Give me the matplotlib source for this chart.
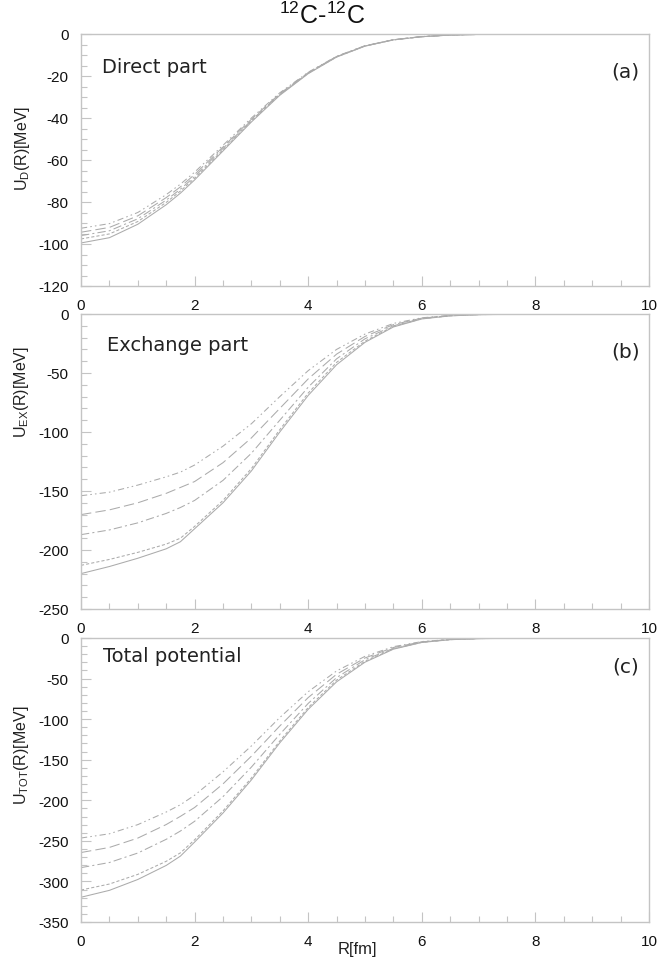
import matplotlib
matplotlib.use("Agg")
import matplotlib.pyplot as plt
from matplotlib.ticker import MultipleLocator

plt.rcParams['font.family'] = ['Liberation Sans', 'DejaVu Sans']
plt.rcParams['mathtext.fontset'] = 'custom'
plt.rcParams['mathtext.rm'] = 'Liberation Sans'
plt.rcParams['mathtext.it'] = 'Liberation Sans:italic'
plt.rcParams['axes.unicode_minus'] = False

# ---------------- data ----------------
R = [0, 0.5, 1.0, 1.5, 1.75, 2.0, 2.5, 3.0, 3.5, 4.0, 4.5, 5.0, 5.5, 6.0, 6.5, 7.0, 8.0, 9.0, 10.0]

# Direct part (a)
ud_1 = [-92.5, -90.3, -85.0, -76.5, -71.5, -65.8, -53.0, -40.0, -28.0, -18.2, -10.6, -5.6, -2.7, -1.2, -0.5, -0.2, -0.05, 0, 0]
ud_2 = [-94.4, -92.1, -86.6, -77.9, -72.8, -66.9, -53.8, -40.6, -28.4, -18.4, -10.7, -5.6, -2.7, -1.2, -0.5, -0.2, -0.05, 0, 0]
ud_3 = [-96.0, -93.7, -88.0, -79.1, -73.9, -67.9, -54.5, -41.1, -28.7, -18.6, -10.8, -5.7, -2.8, -1.3, -0.5, -0.2, -0.05, 0, 0]
ud_4 = [-97.6, -95.2, -89.3, -80.2, -74.8, -68.7, -55.1, -41.5, -28.9, -18.7, -10.9, -5.7, -2.8, -1.3, -0.5, -0.2, -0.05, 0, 0]
ud_5 = [-99.5, -97.0, -90.6, -81.3, -75.8, -69.5, -55.7, -41.9, -29.2, -18.9, -11.0, -5.8, -2.8, -1.3, -0.5, -0.2, -0.05, 0, 0]

# Exchange part (b)
uex_1 = [-154, -151, -145, -138, -134, -128, -112, -93, -70, -48, -30, -17, -8, -3.2, -1.2, -0.4, -0.1, 0, 0]
uex_2 = [-170, -166, -160, -152, -147, -142, -126, -105, -80, -55, -34, -19, -9, -3.5, -1.3, -0.45, -0.1, 0, 0]
uex_3 = [-187, -183, -177, -169, -164, -158, -141, -118, -90, -62, -38, -21, -10, -3.8, -1.4, -0.5, -0.1, 0, 0]
uex_4 = [-213, -208, -202, -195, -190, -180, -158, -131, -98, -67, -41, -23, -10.5, -4.0, -1.5, -0.5, -0.1, 0, 0]
uex_5 = [-220, -214, -207, -199, -193, -182, -160, -133, -100, -69, -43, -24, -11, -4.2, -1.6, -0.55, -0.1, 0, 0]

# Total potential (c)
utot_1 = [-246.5, -241.3, -230.0, -214.5, -205.5, -193.8, -165.0, -133.0, -98.0, -66.2, -40.6, -22.6, -10.7, -4.4, -1.7, -0.6, -0.15, 0, 0]
utot_2 = [-264.4, -258.1, -246.6, -229.9, -219.8, -208.9, -179.8, -145.6, -108.4, -73.4, -44.7, -24.6, -11.7, -4.7, -1.8, -0.65, -0.15, 0, 0]
utot_3 = [-283.0, -276.7, -265.0, -248.1, -237.9, -225.9, -195.5, -159.1, -118.7, -80.6, -48.8, -26.7, -12.8, -5.1, -1.9, -0.7, -0.15, 0, 0]
utot_4 = [-310.6, -303.2, -291.3, -275.2, -264.8, -248.7, -213.1, -172.5, -126.9, -85.7, -51.9, -28.7, -13.3, -5.3, -2.0, -0.7, -0.15, 0, 0]
utot_5 = [-319.5, -311.0, -297.6, -280.3, -268.8, -251.5, -215.7, -174.9, -129.2, -87.9, -54.0, -29.8, -13.8, -5.5, -2.1, -0.75, -0.15, 0, 0]

title = r'$^{12}$C-$^{12}$C'
panel_names = ['Direct part', 'Exchange part', 'Total potential']
panel_tags = ['(a)', '(b)', '(c)']
ylabels = [r'U$_{\mathrm{D}}$(R)[MeV]', r'U$_{\mathrm{EX}}$(R)[MeV]', r'U$_{\mathrm{TOT}}$(R)[MeV]']

# ---------------- styles ----------------
W, H = 659, 962
fig = plt.figure(figsize=(W / 100, H / 100), dpi=100)

def px_rect(left, top, right, bottom):
    return [left / W, 1 - bottom / H, (right - left) / W, (bottom - top) / H]

rects = [px_rect(81, 35, 649, 287), px_rect(81, 315, 649, 610), px_rect(81, 639, 649, 923)]
ylims = [(-120, 0), (-250, 0), (-350, 0)]
ymajor = [20, 50, 50]
yminor = [5, 10, 10]
series = [[ud_1, ud_2, ud_3, ud_4, ud_5],
          [uex_1, uex_2, uex_3, uex_4, uex_5],
          [utot_1, utot_2, utot_3, utot_4, utot_5]]
styles = [(0, (6, 3, 1.5, 3, 1.5, 3)), (0, (10, 4)), (0, (8, 3, 2, 3)), (0, (3, 2)), '-']
line_color = '#ababab'
frame_color = '#c4c4c4'
name_pos = [(0.037, 0.873), (0.046, 0.898), (0.039, 0.937)]
tag_pos = [(0.958, 0.853), (0.958, 0.875), (0.958, 0.90)]
ylabel_y = [148, 392, 755]

for i in range(3):
    ax = fig.add_axes(rects[i])
    for vals, ls in zip(series[i], styles):
        ax.plot(R, vals, color=line_color, lw=0.75, linestyle=ls)
    ax.set_xlim(0, 10)
    ax.set_ylim(*ylims[i])
    ax.xaxis.set_major_locator(MultipleLocator(2))
    ax.xaxis.set_minor_locator(MultipleLocator(0.5))
    ax.yaxis.set_major_locator(MultipleLocator(ymajor[i]))
    ax.yaxis.set_minor_locator(MultipleLocator(yminor[i]))
    for sp in ax.spines.values():
        sp.set_color(frame_color)
        sp.set_linewidth(1.0)
    ax.tick_params(which='major', direction='in', length=7, width=0.8, color=frame_color,
                   labelsize=11, pad=9, labelcolor='#111111')
    ax.tick_params(which='minor', direction='in', length=4, width=0.8, color=frame_color)
    ax.tick_params(which='both', top=False, right=False)
    ax.text(name_pos[i][0], name_pos[i][1], panel_names[i], transform=ax.transAxes,
            fontsize=14, family='DejaVu Sans', color='#222222', ha='left', va='center')
    ax.text(tag_pos[i][0], tag_pos[i][1], panel_tags[i], transform=ax.transAxes,
            fontsize=14.5, family='DejaVu Sans', color='#222222', ha='center', va='center')
    fig.text(22 / W, 1 - ylabel_y[i] / H, ylabels[i], rotation=90, fontsize=11.5,
             ha='center', va='center', color='#222222')
    if i == 2:
        ax.text(0.486, -0.095, 'R[fm]', transform=ax.transAxes, fontsize=12,
                ha='center', va='center', color='#222222')

fig.text(322 / W, 1 - 16 / H, title, fontsize=18, ha='center', va='center', color='#111111')

fig.savefig('out.png', dpi=100)
